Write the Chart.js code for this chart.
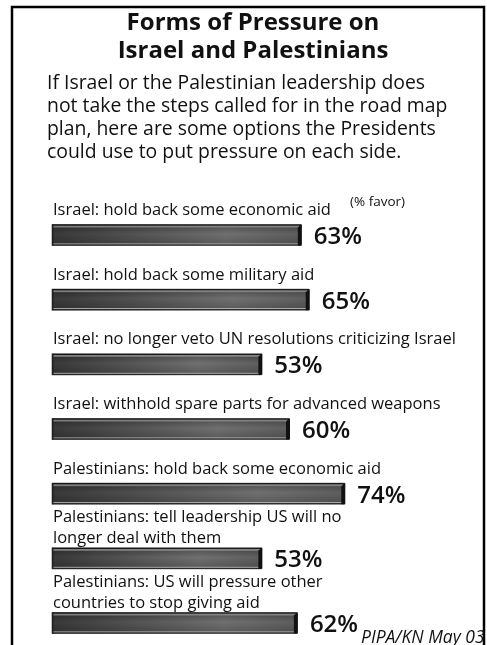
<!DOCTYPE html>
<html lang="en">
<head>
    <meta charset="UTF-8">
    <title>Forms of Pressure on Israel and Palestinians</title>
    <style>
        html, body {
            margin: 0;
            padding: 0;
            background: #fff;
        }
        #pressureChart {
            display: block;
        }
    </style>
</head>
<body>
    <canvas id="pressureChart" width="487" height="645"></canvas>
    <script src="https://cdn.jsdelivr.net/npm/chart.js"></script>
    <script>
        // Poll data (% favor)
        const categories = [
            ['Israel: hold back some economic aid'],
            ['Israel: hold back some military aid'],
            ['Israel: no longer veto UN resolutions criticizing Israel'],
            ['Israel: withhold spare parts for advanced weapons'],
            ['Palestinians: hold back some economic aid'],
            ['Palestinians: tell leadership US will no', 'longer deal with them'],
            ['Palestinians: US will pressure other', 'countries to stop giving aid']
        ];
        const favor = [63, 65, 53, 60, 74, 53, 62];

        const titleLines = ['Forms of Pressure on', 'Israel and Palestinians'];
        const introLines = [
            'If Israel or the Palestinian leadership does',
            'not take the steps called for in the road map',
            'plan, here are some options the Presidents',
            'could use to put pressure on each side.'
        ];
        const unitNote = '(% favor)';
        const sourceNote = 'PIPA/KN May 03';

        const FONT = '"Open Sans", "DejaVu Sans", sans-serif';

        // Grey body shading that runs from the bar base to its end
        function barFill(context) {
            const chart = context.chart;
            if (!chart.chartArea) return '#555';
            const xs = chart.scales.x;
            const x0 = xs.getPixelForValue(0);
            const x1 = xs.getPixelForValue(context.raw);
            const g = chart.ctx.createLinearGradient(x0, 0, x1, 0);
            g.addColorStop(0, '#3c3c3c');
            g.addColorStop(0.7, '#767676');
            g.addColorStop(1, '#636363');
            return g;
        }

        // Bevel on top, light lip underneath, dark cap at the end
        const bevelPlugin = {
            id: 'bevel',
            afterDatasetsDraw(chart) {
                const ctx = chart.ctx;
                chart.getDatasetMeta(0).data.forEach(bar => {
                    const p = bar.getProps(['x', 'y', 'base', 'height'], true);
                    const top = p.y - p.height / 2;
                    const bot = p.y + p.height / 2;
                    ctx.save();
                    // darken top and bottom of the body
                    const v = ctx.createLinearGradient(0, top, 0, bot);
                    v.addColorStop(0, 'rgba(0,0,0,0.35)');
                    v.addColorStop(0.45, 'rgba(0,0,0,0.05)');
                    v.addColorStop(1, 'rgba(0,0,0,0.25)');
                    ctx.fillStyle = v;
                    ctx.fillRect(p.base, top, p.x - p.base, p.height);
                    // top face
                    ctx.fillStyle = 'rgba(140,140,140,0.85)';
                    ctx.fillRect(p.base + 1, top + 1, p.x - p.base - 2, 2);
                    ctx.fillStyle = '#111';
                    ctx.fillRect(p.base, top, p.x - p.base, 1);
                    // lower lip
                    ctx.fillStyle = '#bbb';
                    ctx.fillRect(p.base + 1, bot - 2, p.x - p.base - 2, 1);
                    ctx.fillStyle = '#222';
                    ctx.fillRect(p.base, bot - 1, p.x - p.base, 1);
                    // left edge and end cap
                    ctx.fillRect(p.base, top, 1.5, p.height);
                    ctx.beginPath();
                    ctx.moveTo(p.x - 3, top + 3);
                    ctx.lineTo(p.x, top);
                    ctx.lineTo(p.x + 1, top);
                    ctx.lineTo(p.x + 1, bot);
                    ctx.lineTo(p.x - 3, bot);
                    ctx.closePath();
                    ctx.fillStyle = '#111';
                    ctx.fill();
                    ctx.restore();
                });
            }
        };

        // Title, intro, category labels, values, frame
        const textPlugin = {
            id: 'texts',
            afterDraw(chart) {
                const ctx = chart.ctx;
                const ys = chart.scales.y;
                ctx.save();

                // frame
                ctx.strokeStyle = '#000';
                ctx.lineWidth = 2.5;
                ctx.strokeRect(12, 7, 472, 660);

                ctx.fillStyle = '#111';
                ctx.textBaseline = 'alphabetic';

                ctx.font = 'bold 24px ' + FONT;
                ctx.textAlign = 'center';
                titleLines.forEach((t, i) => ctx.fillText(t, 253, 30 + i * 28));

                ctx.font = '19.4px ' + FONT;
                ctx.textAlign = 'left';
                introLines.forEach((t, i) => ctx.fillText(t, 47, 89 + i * 23));

                ctx.font = '13.5px ' + FONT;
                ctx.fillText(unitNote, 350, 206);

                ctx.font = '16.5px ' + FONT;
                categories.forEach((lines, i) => {
                    const cy = ys.getPixelForValue(i);
                    const last = lines.length > 1 ? cy - 15 : cy - 20;
                    lines.forEach((t, k) => {
                        ctx.fillText(t, 53, last - (lines.length - 1 - k) * 21);
                    });
                });

                ctx.font = '600 24px ' + FONT;
                ctx.textBaseline = 'middle';
                chart.getDatasetMeta(0).data.forEach((bar, i) => {
                    ctx.fillText(favor[i] + '%', bar.x + 13, bar.y + 2);
                });

                ctx.font = 'italic 17.5px ' + FONT;
                ctx.textBaseline = 'alphabetic';
                ctx.fillText(sourceNote, 361, 643);

                ctx.restore();
            }
        };

        new Chart(document.getElementById('pressureChart'), {
            type: 'bar',
            data: {
                labels: categories,
                datasets: [{
                    data: favor,
                    backgroundColor: barFill,
                    borderWidth: 0,
                    barThickness: 21,
                    clip: false
                }]
            },
            options: {
                indexAxis: 'y',
                responsive: false,
                animation: false,
                devicePixelRatio: 1,
                layout: {
                    padding: { left: 52, right: 40, top: 235, bottom: 22 }
                },
                scales: {
                    x: { display: false, min: 0, max: 100 },
                    y: { display: false, offset: false }
                },
                plugins: {
                    legend: { display: false },
                    tooltip: { enabled: false }
                }
            },
            plugins: [bevelPlugin, textPlugin]
        });
    </script>
</body>
</html>
